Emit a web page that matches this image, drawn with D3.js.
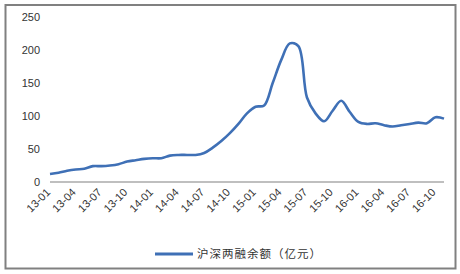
<!DOCTYPE html>
<html>
<head>
<meta charset="utf-8">
<script src="https://cdn.jsdelivr.net/npm/d3@7"></script>
<style>
body { margin: 0; background: #fff; }
.tick-text { font-family: Arial, "Liberation Sans", sans-serif; font-size: 11px; fill: #333; }
.x-text { font-family: Arial, "Liberation Sans", sans-serif; font-size: 11px; fill: #333; }
.legend-text { font-family: "Noto Sans CJK SC", serif; font-size: 11.5px; fill: #333; letter-spacing: 1px; }
</style>
</head>
<body>
<div id="chart"></div>
<script>
// monthly, 13-01 .. 16-11
let months = ['13-01','13-02','13-03','13-04','13-05','13-06','13-07','13-08','13-09','13-10','13-11','13-12',
	'14-01','14-02','14-03','14-04','14-05','14-06','14-07','14-08','14-09','14-10','14-11','14-12',
	'15-01','15-02','15-03','15-04','15-05','15-06','15-07','15-08','15-09','15-10','15-11','15-12',
	'16-01','16-02','16-03','16-04','16-05','16-06','16-07','16-08','16-09','16-10','16-11']

let balance = [12, 14, 17, 19, 20, 24, 24, 25, 27, 31, 33, 35,
	36, 36, 40, 41, 41, 41, 44, 52, 62, 74, 88, 104,
	114, 116, 150, 185, 210, 206, 128, 104, 92, 108, 123, 106,
	91, 88, 89, 86, 84, 86, 88, 90, 89, 98, 96]

let tickLabels = ['13-01','13-04','13-07','13-10','14-01','14-04','14-07','14-10',
	'15-01','15-04','15-07','15-10','16-01','16-04','16-07','16-10']

let yTicks = [0, 50, 100, 150, 200, 250]

let seriesName = '沪深两融余额（亿元）'

let width = 460, height = 274
let margin = { left: 50, right: 16, top: 17, bottom: 92 }

let svg = d3.select('#chart')
.append('svg')
.attr('width', width)
.attr('height', height)

// frame
svg.append('rect')
.attr('x', 5.5)
.attr('y', 5)
.attr('width', 450)
.attr('height', 263.5)
.attr('fill', 'none')
.attr('stroke', '#808080')
.attr('stroke-width', 2)

let x = d3.scalePoint()
.domain(months)
.range([margin.left, width - margin.right])

let y = d3.scaleLinear()
.domain([0, 250])
.range([height - margin.bottom, margin.top])

svg.selectAll('.y-label')
.data(yTicks)
.join('text')
.attr('class', 'tick-text')
.attr('x', 40)
.attr('y', d => y(d) + 4)
.attr('text-anchor', 'end')
.text(d => d)

svg.append('line')
.attr('x1', margin.left)
.attr('x2', width - margin.right)
.attr('y1', y(0))
.attr('y2', y(0))
.attr('stroke', '#bfbfbf')
.attr('stroke-width', 2)

svg.selectAll('.x-label')
.data(tickLabels)
.join('text')
.attr('class', 'x-text')
.attr('text-anchor', 'end')
.attr('transform', d => `translate(${x(d) + 1}, ${y(0) + 11}) rotate(-45)`)
.text(d => d)

let line = d3.line()
.x((d, i) => x(months[i]))
.y(d => y(d))
.curve(d3.curveCatmullRom.alpha(0.5))

svg.append('path')
.datum(balance)
.attr('d', line)
.attr('fill', 'none')
.attr('stroke', '#3f70b6')
.attr('stroke-width', 2.6)
.attr('stroke-linejoin', 'round')

// legend
svg.append('line')
.attr('x1', 155)
.attr('x2', 193)
.attr('y1', 254)
.attr('y2', 254)
.attr('stroke', '#3f70b6')
.attr('stroke-width', 3)

svg.append('text')
.attr('class', 'legend-text')
.attr('x', 197)
.attr('y', 258)
.text(seriesName)
</script>
</body>
</html>
